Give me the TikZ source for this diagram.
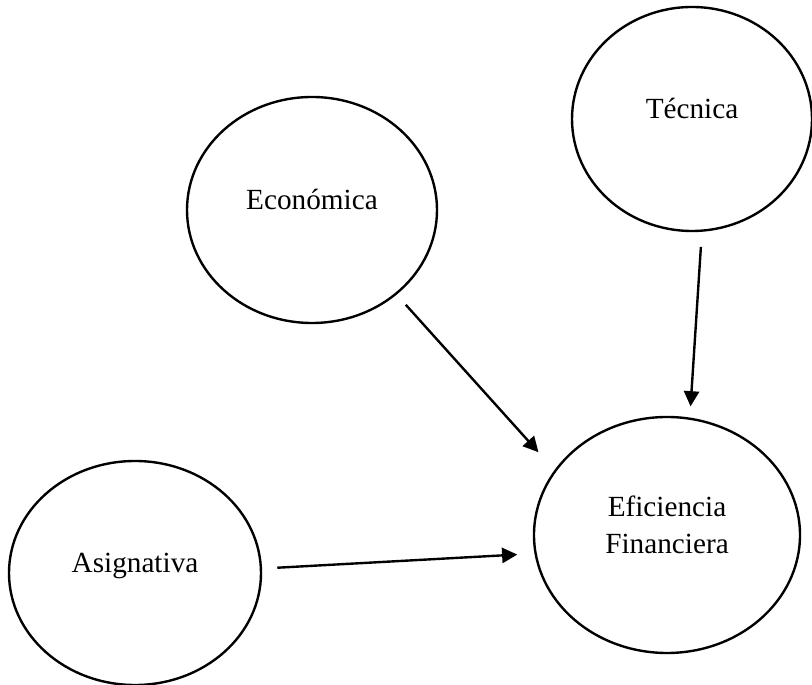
\documentclass[tikz,border=0pt]{standalone}
\usepackage{fontspec}
\setmainfont{Liberation Serif}
\usetikzlibrary{arrows.meta, shapes.geometric}

\begin{document}
\begin{tikzpicture}[font=\fontsize{20.8}{27}\selectfont,
          bubble/.style={draw, ellipse, line width=1.7pt, inner sep=0pt, align=center, text height=0.7em, text depth=0.7em},
          link/.style={-{Triangle[length=0.38cm, width=0.38cm]}, line width=1.7pt}]
          \useasboundingbox (0,0) rectangle (20.3,17.125);
          \node[bubble, minimum width=6cm, minimum height=5.6cm] (tec) at (17.3,14.15) {Técnica};
          \node[bubble, minimum width=6.25cm, minimum height=5.65cm] (eco) at (7.8,11.875) {Económica};
          \node[bubble, minimum width=6.65cm, minimum height=5.9cm, text height=41.6pt, text depth=14.6pt] (efi) at (16.675,3.75) {Eficiencia\\Financiera};
          \node[bubble, minimum width=6.3cm, minimum height=5.6cm] (asi) at (3.375,2.8) {Asignativa};
          \draw[link, shorten <=0.34cm, shorten >=0.6cm] (eco.-45) -- (efi.150);
          \draw[link, shorten <=0.38cm, shorten >=0.28cm] (tec.-85) -- (efi.79);
          \draw[link, shorten <=0.38cm, shorten >=0.43cm] (asi.2) -- (efi.188);
        \end{tikzpicture}
\end{document}
